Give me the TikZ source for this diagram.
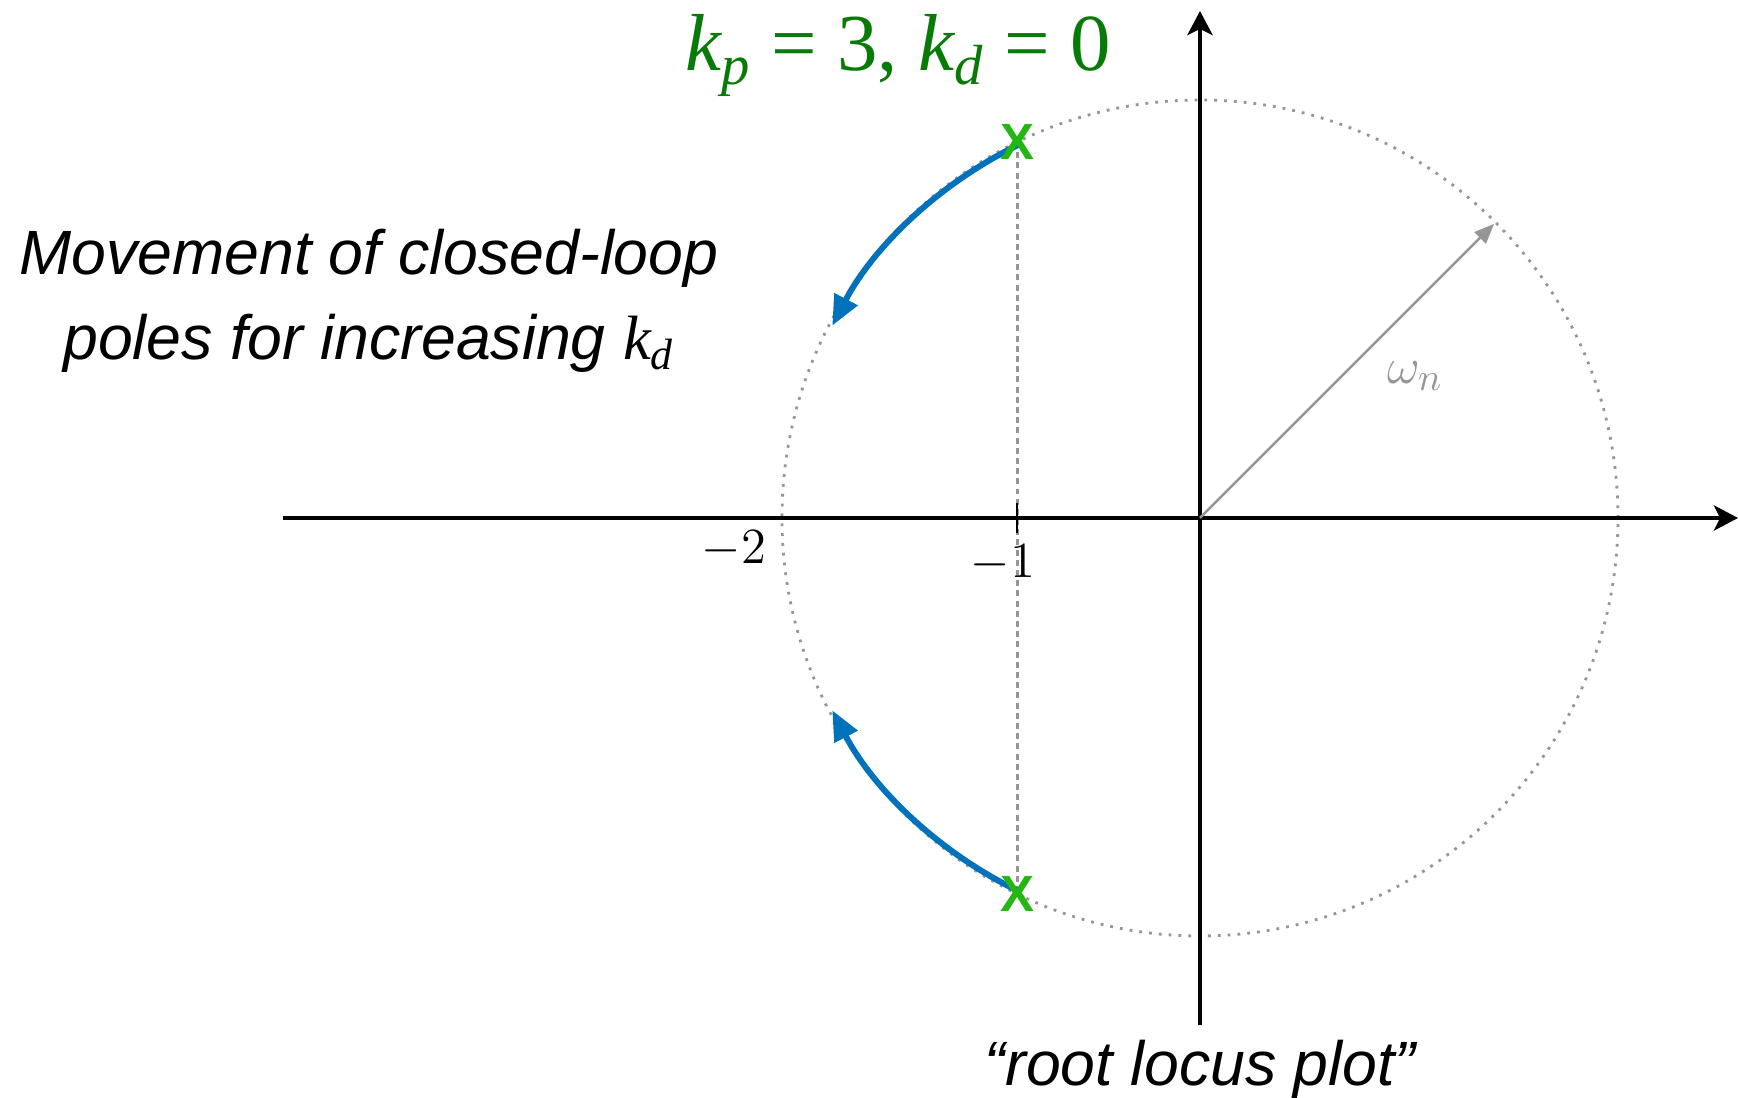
\documentclass[tikz,border=0pt]{standalone}
\usepackage{fontspec}
\newfontfamily\notefont{Liberation Sans}
\newfontfamily\timesfont{Liberation Serif}
\usetikzlibrary{arrows.meta,positioning}
\definecolor{locusblue}{RGB}{0,114,188}
\definecolor{polegreen}{RGB}{36,182,18}
\definecolor{titlegreen}{RGB}{8,122,8}
\definecolor{circgray}{RGB}{150,150,150}
\begin{document}
\begin{tikzpicture}[
    axis/.style={line width=1.2pt, -{Stealth[length=2.4mm, width=2.5mm, inset=0.6mm]}},
    locus/.style={line width=1.7pt, locusblue, -{Triangle[length=3mm, width=2.5mm]}},
    pole/.style={text=polegreen, font=\notefont\bfseries\fontsize{14.5}{14.5}\selectfont, inner sep=0pt},
    ticklabel/.style={font=\fontsize{13.5}{16}\selectfont, inner sep=0pt},
    note/.style={font=\notefont\itshape\fontsize{17.8}{24}\selectfont, inner sep=0pt, anchor=base}
  ]
  \useasboundingbox (-12.00,-5.80) rectangle (5.38,5.18);
  \coordinate (O) at (0,0);
  \coordinate (P1) at (115.9:4.18);
  \coordinate (P2) at (-115.9:4.18);

  % Circle of radius omega_n and the line Re = -1
  \draw[circgray, line width=0.8pt, dotted] (O) circle (4.18);
  \draw[circgray, line width=0.8pt, dash pattern=on 1.7pt off 1.2pt] (P1) -- (P2);

  % Axes
  \draw[axis] (-9.17,0) -- (5.38,0);
  \draw[axis] (0,-5.07) -- (0,5.07);
  \draw[line width=0.5pt] (-1.83,0.15) -- (-1.83,-0.15);
  \node[ticklabel] (m2) at (-4.66,-0.31) {$-2$};
  \node[ticklabel] (m1) at (-1.97,-0.45) {$-1$};

  % Natural frequency
  \draw[circgray, line width=0.7pt, -{Triangle[length=2mm, width=1.6mm]}] (O) -- (45:4.16);
  \node[text=circgray, font=\fontsize{15.5}{18}\selectfont] (wn) at (2.15,1.42) {$\omega_n$};

  % Pole movement
  \draw[locus] (115.9:4.15) arc[start angle=115.9, end angle=152.4, radius=4.15];
  \draw[locus] (-115.9:4.15) arc[start angle=-115.9, end angle=-152.4, radius=4.15];
  \node[pole] (x1) at (P1) {X};
  \node[pole] (x2) at (P2) {X};

  % Labels
  \node[text=titlegreen, font=\timesfont\fontsize{23}{26}\selectfont, inner sep=0pt, anchor=base] (gains) at (-3.02,4.47)
    {\itshape k\textsubscript{p}\upshape\ = 3, \itshape k\textsubscript{d}\upshape\ = 0};
  \node[note] (move1) at (-8.31,2.43) {Movement of closed-loop};
  \node[note] (move2) at ([yshift=-0.85cm]move1.base) {poles for increasing {\timesfont k\textsubscript{d}}};
  \node[note] (rlp) at (0,-5.68) {“root locus plot”};
\end{tikzpicture}
\end{document}
